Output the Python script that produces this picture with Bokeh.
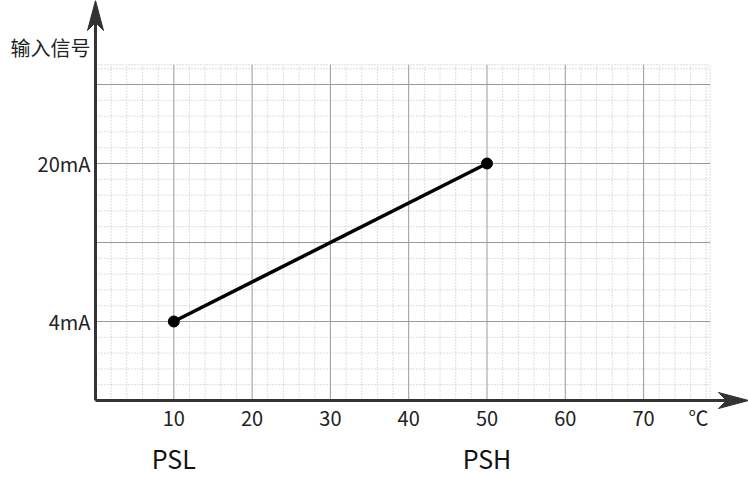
from bokeh.plotting import figure
from bokeh.models import FixedTicker, LinearAxis, Range1d
from bokeh.embed import file_html
from bokeh.resources import INLINE

# ---- data ----
x_values = [10, 50]            # temperature (℃)
y_values = [4, 20]             # input signal (mA)
point_names = ["PSL", "PSH"]
x_ticks = [10, 20, 30, 40, 50, 60, 70]
x_unit = "℃"
x_unit_pos = 77
y_ticks = [4, 20]
y_tick_labels = ["4mA", "20mA"]
y_title = "输入信号"
y_title_pos = 31.75

# ---- layout constants ----
X0, Y0 = 0, -4          # axis origin
XG, YG = 78.5, 30       # grid extent
W, H = 748, 477
PX_X, PX_Y = 7.83, 9.875   # pixels per data unit
OX, OY = 95, 400           # canvas position of the origin
x_start = X0 - OX / PX_X
x_end = X0 + (W - OX) / PX_X
y_end = Y0 + OY / PX_Y
y_start = Y0 - (H - OY) / PX_Y

FONT = "Noto Sans CJK SC"
TXT = "#222222"
AX = "#333333"

p = figure(width=W, height=H, x_range=Range1d(x_start, x_end), y_range=Range1d(y_start, y_end),
           output_backend="svg", toolbar_location=None, x_axis_type=None, y_axis_type=None,
           min_border=0)
p.outline_line_color = None
p.background_fill_color = "white"
p.border_fill_color = "white"

# ---- grid ----
vmin = [2 * k for k in range(1, 40) if (2 * k) % 10 != 0] + [XG]
hmaj = [Y0 + 8 * k for k in range(1, 5)]
hmin = [Y0 + 1.6 * k for k in range(1, 22) if k % 5 != 0] + [YG]

p.segment(x0=vmin, y0=[Y0] * len(vmin), x1=vmin, y1=[YG] * len(vmin),
          line_color="#bdbdbd", line_width=1, line_dash="1 2")
p.segment(x0=[X0] * len(hmin), y0=hmin, x1=[XG] * len(hmin), y1=hmin,
          line_color="#bdbdbd", line_width=1, line_dash="1 2")
p.segment(x0=x_ticks, y0=[Y0] * len(x_ticks), x1=x_ticks, y1=[YG] * len(x_ticks),
          line_color="#9a9a9a", line_width=1)
p.segment(x0=[X0] * len(hmaj), y0=hmaj, x1=[XG] * len(hmaj), y1=hmaj,
          line_color="#9a9a9a", line_width=1)

# ---- axes ----
yaxis = LinearAxis(fixed_location=X0, bounds=(Y0, y_end - 15 / PX_Y),
                   ticker=FixedTicker(ticks=y_ticks + [y_title_pos]),
                   major_label_overrides={**{t: l for t, l in zip(y_ticks, y_tick_labels)}, y_title_pos: y_title})
xaxis = LinearAxis(fixed_location=Y0, bounds=(X0, x_end - 15 / PX_X),
                   ticker=FixedTicker(ticks=x_ticks + [x_unit_pos]),
                   major_label_overrides={x_unit_pos: x_unit})
x2 = LinearAxis(fixed_location=Y0, ticker=FixedTicker(ticks=x_values),
                major_label_overrides={t: n for t, n in zip(x_values, point_names)})
for ax in (yaxis, xaxis, x2):
    ax.axis_line_color = AX
    ax.axis_line_width = 3
    ax.major_tick_line_color = None
    ax.minor_tick_line_color = None
    ax.major_tick_out = 0
    ax.major_tick_in = 0
    ax.major_label_text_font = FONT
    ax.major_label_text_font_size = "20px"
    ax.major_label_text_color = TXT
    ax.major_label_standoff = 5
xaxis.major_label_standoff = 2
x2.axis_line_color = None
x2.major_label_text_font_size = "25px"
x2.major_label_text_color = "#111111"
x2.major_label_standoff = 39
p.add_layout(yaxis, "left")
p.add_layout(xaxis, "below")
p.add_layout(x2, "below")

# ---- arrow heads ----
L, HW, N = 30, 8, 8
p.patch([X0, X0 - HW / PX_X, X0, X0 + HW / PX_X],
        [y_end, y_end - L / PX_Y, y_end - (L - N) / PX_Y, y_end - L / PX_Y],
        color=AX, line_width=1)
p.patch([x_end, x_end - L / PX_X, x_end - (L - N) / PX_X, x_end - L / PX_X],
        [Y0, Y0 + HW / PX_Y, Y0, Y0 - HW / PX_Y],
        color=AX, line_width=1)

# ---- data line ----
p.line(x_values, y_values, line_color="black", line_width=3.5)
p.scatter(x_values, y_values, size=11, color="black")

open("out.html", "w").write(file_html(p, INLINE))
